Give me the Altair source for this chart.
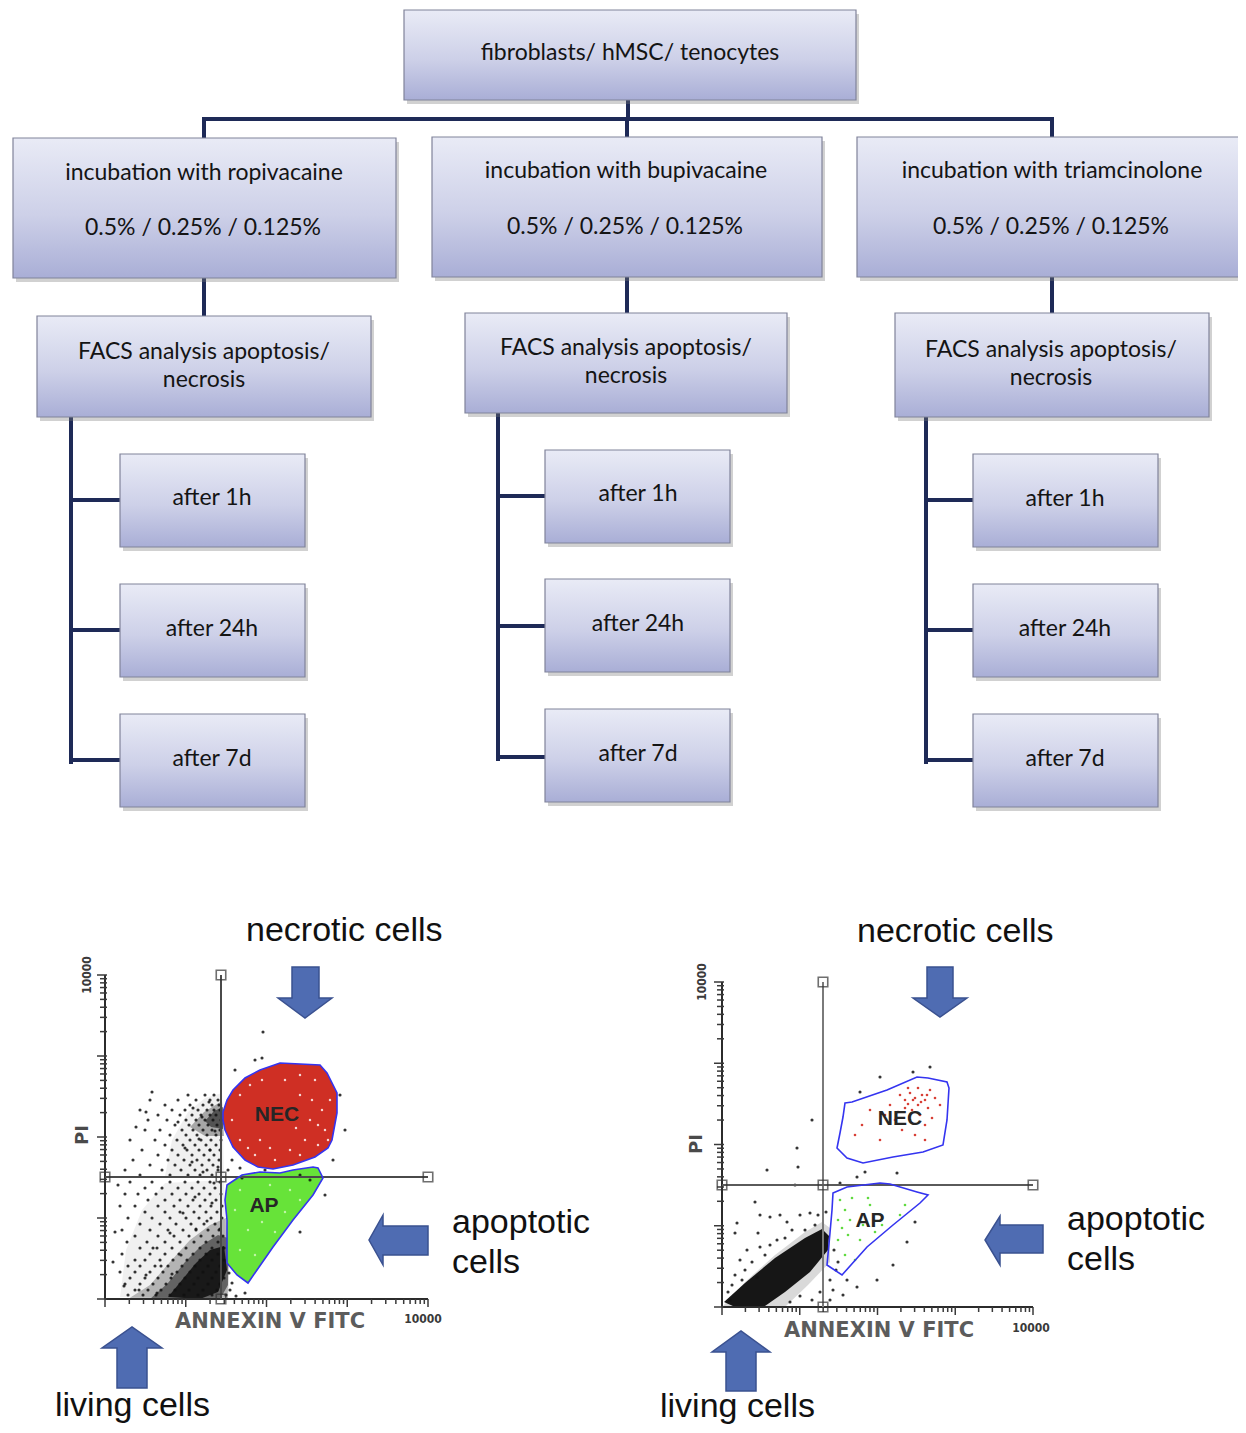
import math
import altair as alt
import pandas as pd

W, H = 1230, 1417

# ---------------- flowchart data ----------------
BOX_X1 = [404, 13, 432, 857, 37, 465, 895, 120, 120, 120, 545, 545, 545, 973, 973, 973]
BOX_Y1 = [10, 138, 137, 137, 316, 313, 313, 454, 584, 714, 450, 579, 709, 454, 584, 714]
BOX_X2 = [856, 396, 822, 1252, 371, 787, 1209, 305, 305, 305, 730, 730, 730, 1158, 1158, 1158]
BOX_Y2 = [100, 278, 277, 277, 417, 413, 417, 547, 677, 807, 543, 672, 802, 547, 677, 807]

LABEL_TEXT = [
    "fibroblasts/ hMSC/ tenocytes",
    "incubation  with ropivacaine", "0.5% / 0.25% / 0.125%",
    "incubation  with bupivacaine", "0.5% / 0.25% / 0.125%",
    "incubation  with triamcinolone", "0.5% / 0.25% / 0.125%",
    "FACS analysis apoptosis/", "necrosis",
    "FACS analysis apoptosis/", "necrosis",
    "FACS analysis apoptosis/", "necrosis",
    "after 1h", "after 24h", "after 7d",
    "after 1h", "after 24h", "after 7d",
    "after 1h", "after 24h", "after 7d",
]
LABEL_X = [630, 204, 203, 626, 625, 1052, 1051, 204, 204, 626, 626, 1051, 1051,
           212, 212, 212, 638, 638, 638, 1065, 1065, 1065]
LABEL_Y = [53, 173, 228, 171, 227, 171, 227, 352, 380, 348, 376, 350, 378,
           498, 629, 759, 494, 624, 754, 499, 629, 759]

SEG_X1 = [628, 204, 204, 627, 1052, 204, 627, 1052, 71, 71, 71, 71, 498, 498, 498, 498, 926, 926, 926, 926]
SEG_Y1 = [100, 119, 119, 119, 119, 278, 277, 277, 417, 500, 630, 760, 413, 496, 626, 757, 417, 500, 630, 760]
SEG_X2 = [628, 1052, 204, 627, 1052, 204, 627, 1052, 71, 120, 120, 120, 498, 545, 545, 545, 926, 973, 973, 973]
SEG_Y2 = [119, 119, 138, 137, 137, 316, 313, 313, 762, 500, 630, 760, 759, 496, 626, 757, 762, 500, 630, 760]

# ---------------- FACS panels ----------------
AX_ORIGIN_X = [105, 722]
AX_ORIGIN_Y = [1299, 1307]
AX_TOP_Y = [975, 982]
AX_RIGHT_X = [428, 1033]
QUAD_X = [221, 823]
QUAD_Y = [1177, 1185]
TICK_VALUES = [m * 10 ** d for d in range(4) for m in range(1, 10)] + [10000]

NEC_L = [(223, 1112), (227, 1100), (233, 1090), (245, 1078), (260, 1070), (280, 1063), (320, 1065),
         (327, 1073), (337, 1093), (337, 1113), (332, 1140), (328, 1148), (315, 1157), (293, 1165),
         (273, 1169), (258, 1167), (245, 1160), (233, 1147), (225, 1130), (223, 1120)]
AP_L = [(227, 1185), (242, 1175), (260, 1172), (280, 1173), (293, 1170), (313, 1167), (318, 1168),
        (323, 1178), (313, 1195), (293, 1220), (273, 1247), (257, 1270), (248, 1283), (237, 1275),
        (227, 1263), (227, 1220), (225, 1200)]
NEC_R = [(845, 1103), (852, 1102), (887, 1090), (917, 1077), (928, 1078), (947, 1082), (949, 1088),
         (947, 1120), (943, 1145), (923, 1152), (893, 1157), (863, 1163), (847, 1158), (837, 1148),
         (840, 1133), (843, 1117)]
AP_R = [(833, 1193), (847, 1187), (880, 1183), (890, 1184), (917, 1192), (928, 1195), (920, 1203),
        (893, 1225), (867, 1247), (842, 1275), (827, 1265), (830, 1233), (832, 1210)]

# dense event areas (soft, layered)
CLOUDS = [
    ([(165, 1176), (172, 1140), (188, 1112), (205, 1098), (222, 1093), (224, 1176)], 0.06),
    ([(120, 1297), (126, 1250), (142, 1210), (165, 1183), (224, 1180), (227, 1297)], 0.06),
    ([(190, 1127), (204, 1112), (222, 1101), (224, 1136), (205, 1136)], 0.3),
    ([(205, 1121), (214, 1111), (223, 1107), (223, 1129), (211, 1127)], 0.5),
    ([(128, 1299), (150, 1285), (170, 1262), (190, 1240), (210, 1225), (226, 1218), (229, 1260),
      (228, 1299)], 0.25),
    ([(150, 1299), (168, 1283), (185, 1262), (202, 1245), (218, 1235), (228, 1238), (228, 1285),
      (220, 1299)], 0.45),
    ([(168, 1297), (182, 1280), (196, 1263), (210, 1250), (224, 1246), (227, 1270), (218, 1292),
      (200, 1299)], 0.75),
    ([(722, 1307), (745, 1282), (775, 1255), (805, 1232), (822, 1222), (830, 1228), (830, 1262),
      (808, 1285), (785, 1307)], 0.15),
    ([(724, 1302), (745, 1283), (775, 1258), (805, 1238), (822, 1229), (829, 1236), (828, 1250),
      (810, 1272), (785, 1292), (765, 1306), (735, 1307)], 0.9),
]

ARROWS = [
    [(292, 967), (319, 967), (319, 998), (332, 998), (305, 1018), (278, 998), (292, 998)],
    [(927, 967), (953, 967), (953, 998), (967, 998), (940, 1017), (913, 998), (927, 998)],
    [(428, 1226), (428, 1255), (383, 1255), (383, 1265), (369, 1240), (383, 1215), (383, 1226)],
    [(1043, 1225), (1043, 1253), (1000, 1253), (1000, 1265), (985, 1240), (1000, 1216), (1000, 1225)],
    [(117, 1388), (147, 1388), (147, 1348), (162, 1348), (132, 1327), (102, 1348), (117, 1348)],
    [(726, 1391), (756, 1391), (756, 1352), (770, 1352), (741, 1331), (712, 1352), (726, 1352)],
]

# single events, left panel, read row by row (y: x positions)
BLACK_L_ROWS = {
    1095: [188, 205, 214], 1100: [150, 178, 196, 210, 218], 1105: [165, 190, 203, 212, 219],
    1110: [140, 172, 185, 198, 207, 214, 220], 1115: [158, 180, 192, 201, 210, 216],
    1120: [148, 167, 186, 196, 205, 213, 221], 1125: [175, 189, 199, 208, 217],
    1130: [145, 160, 182, 193, 203, 212, 220], 1135: [170, 186, 197, 207, 216],
    1140: [130, 155, 177, 190, 201, 211, 221], 1145: [165, 183, 195, 206, 216],
    1150: [142, 172, 187, 199, 210, 220], 1155: [158, 178, 192, 204, 214],
    1160: [133, 168, 184, 197, 209, 219], 1165: [150, 175, 190, 202, 213],
    1170: [125, 162, 181, 195, 207, 218], 1175: [140, 170, 188, 200, 212],
    1182: [130, 152, 170, 185, 198, 210, 220], 1188: [145, 162, 178, 192, 204, 215],
    1194: [125, 138, 156, 172, 186, 199, 210, 221], 1200: [148, 165, 180, 193, 205, 216],
    1206: [120, 135, 158, 174, 188, 200, 211, 222], 1212: [145, 165, 180, 194, 206, 217],
    1218: [128, 152, 170, 186, 199, 211, 222], 1224: [140, 160, 176, 191, 204, 215],
    1230: [122, 150, 168, 183, 196, 208, 219], 1236: [135, 158, 174, 189, 201, 213, 223],
    1242: [127, 147, 165, 180, 194, 206, 218], 1248: [140, 157, 172, 186, 200, 212, 224],
    1254: [122, 150, 165, 179, 193, 206, 218], 1260: [135, 145, 160, 173, 187, 200, 212, 224],
    1266: [128, 140, 155, 168, 182, 195, 208, 220], 1272: [120, 135, 150, 163, 177, 190, 203, 216],
    1278: [130, 145, 158, 171, 185, 198, 212, 224], 1284: [125, 140, 153, 166, 180, 194, 208, 220],
    1290: [135, 148, 161, 175, 189, 203, 217], 1295: [128, 143, 156, 170, 184, 198, 212, 226],
}
BLACK_L_EXTRA = [(232, 1160), (240, 1168), (228, 1170), (236, 1296), (245, 1293), (230, 1290), (255, 1060),
                 (235, 1070), (262, 1058), (242, 1178), (300, 1175), (265, 1170), (263, 1032), (340, 1095),
                 (345, 1130), (333, 1160), (310, 1180), (325, 1195), (300, 1232), (146, 1112), (136, 1127),
                 (118, 1185), (115, 1232), (113, 1262), (152, 1092), (232, 1283), (229, 1273),
                 (193, 1108), (202, 1117), (209, 1102), (215, 1131), (199, 1139), (210, 1150), (218, 1167),
                 (203, 1172), (192, 1162), (185, 1148), (178, 1122), (195, 1197), (212, 1203), (183, 1213),
                 (207, 1221), (170, 1233), (196, 1229), (153, 1248), (181, 1255), (161, 1266), (146, 1275),
                 (172, 1274), (139, 1290), (157, 1293), (124, 1286), (214, 1183), (220, 1229)]
BLACK_R = [(812, 1120), (797, 1148), (767, 1170), (798, 1167), (755, 1202), (760, 1215), (770, 1217),
           (780, 1215), (787, 1222), (800, 1215), (810, 1213), (737, 1223), (735, 1233), (758, 1233),
           (747, 1250), (740, 1260), (760, 1247), (777, 1240), (847, 1280), (857, 1287), (877, 1280),
           (833, 1290), (830, 1300), (893, 1265), (907, 1242), (915, 1222), (865, 1172), (897, 1173),
           (857, 1177), (840, 1183), (860, 1092), (880, 1077), (930, 1067), (913, 1072), (795, 1185),
           (805, 1230), (815, 1225), (838, 1262), (843, 1295), (735, 1275), (745, 1270), (752, 1262),
           (765, 1255), (770, 1245), (785, 1238), (792, 1230), (818, 1215), (826, 1212), (830, 1280),
           (820, 1292), (812, 1300), (800, 1296), (790, 1302), (834, 1250), (836, 1270), (728, 1292),
           (732, 1285), (742, 1280), (757, 1277), (730, 1300)]
RED_R = [(900, 1095), (905, 1100), (910, 1093), (915, 1098), (918, 1105), (922, 1095), (925, 1100),
         (928, 1108), (912, 1110), (905, 1108), (920, 1115), (930, 1090), (935, 1098), (898, 1112),
         (890, 1105), (885, 1115), (895, 1120), (910, 1120), (925, 1125), (932, 1118), (870, 1110),
         (862, 1125), (855, 1135), (880, 1140), (915, 1135), (925, 1140), (902, 1130), (940, 1105),
         (908, 1088), (918, 1088), (913, 1100), (921, 1102), (908, 1104), (927, 1095)]
GREEN_R = [(840, 1200), (845, 1210), (852, 1198), (868, 1198), (870, 1205), (838, 1220), (842, 1228),
           (848, 1235), (838, 1240), (845, 1255), (855, 1260), (860, 1240), (875, 1232), (882, 1225),
           (900, 1215), (905, 1205), (863, 1225), (850, 1220)]
WHITE_L = [(240, 1095), (250, 1085), (300, 1075), (315, 1080), (330, 1100), (325, 1130), (318, 1145),
           (300, 1155), (275, 1160), (255, 1155), (240, 1140), (232, 1120), (300, 1095), (310, 1120),
           (260, 1140), (285, 1080), (322, 1110), (290, 1150), (305, 1140), (270, 1148), (248, 1148),
           (312, 1100), (296, 1128), (318, 1125), (262, 1080), (328, 1140)]
LIGHT_G = [(240, 1190), (255, 1200), (270, 1185), (290, 1190), (300, 1200), (248, 1230), (262, 1222),
           (240, 1250), (255, 1255), (275, 1232), (235, 1210), (285, 1212)]

ANN_TEXT = ["necrotic cells", "apoptotic", "cells", "living cells",
            "necrotic cells", "apoptotic", "cells", "living cells"]
ANN_X = [246, 452, 452, 55, 857, 1067, 1067, 660]
ANN_Y = [941, 1233, 1273, 1416, 942, 1230, 1270, 1417]

# ---------------- helpers ----------------
xs = alt.Scale(domain=[8, 1238], nice=False, zero=False)
ys = alt.Scale(domain=[8, 1425], nice=False, zero=False, reverse=True)


def XE(f="x"):
    return alt.X(f"{f}:Q", scale=xs, axis=None)


def YE(f="y"):
    return alt.Y(f"{f}:Q", scale=ys, axis=None)


def feature(coords, fill, stroke, op=1.0):
    ring = [[float(a), float(b)] for a, b in coords]
    ring.append(ring[0])
    return {"type": "Feature", "properties": {"fill": fill, "stroke": stroke, "op": op},
            "geometry": {"type": "Polygon", "coordinates": [ring]}}


def shapes(feats, sw=1.5):
    return alt.Chart(alt.Data(values=feats)).mark_geoshape(strokeWidth=sw).encode(
        fill=alt.Fill("properties.fill:N", scale=None),
        stroke=alt.Stroke("properties.stroke:N", scale=None),
        opacity=alt.Opacity("properties.op:Q", scale=None),
    ).project(type="identity", scale=1, translate=[-8, -8])


def pts(lst):
    return pd.DataFrame({"x": [p[0] for p in lst], "y": [p[1] for p in lst]})


# ---------------- flowchart layers ----------------
boxes = pd.DataFrame({"x": BOX_X1, "y": BOX_Y1, "x2": BOX_X2, "y2": BOX_Y2})
shadow = boxes.copy()
shadow[["x", "x2"]] += 3
shadow[["y", "y2"]] += 4

shadow_layer = alt.Chart(shadow).mark_rect(fill="#7a7a7a", opacity=0.35).encode(
    x=XE(), x2="x2:Q", y=YE(), y2="y2:Q")
grad = alt.Gradient(gradient="linear", x1=0, x2=0, y1=0, y2=1,
                    stops=[alt.GradientStop(color="#e9ebf6", offset=0),
                           alt.GradientStop(color="#cdd0e8", offset=0.55),
                           alt.GradientStop(color="#a9aed6", offset=1)])
box_layer = alt.Chart(boxes).mark_rect(fill=grad, stroke="#80839a", strokeWidth=1.2).encode(
    x=XE(), x2="x2:Q", y=YE(), y2="y2:Q")

segs = pd.DataFrame({"x": SEG_X1, "y": SEG_Y1, "x2": SEG_X2, "y2": SEG_Y2})
seg_layer = alt.Chart(segs).mark_rule(color="#1e2a57", strokeWidth=4, strokeCap="square").encode(
    x=XE(), x2="x2:Q", y=YE(), y2="y2:Q")

labels = pd.DataFrame({"x": LABEL_X, "y": LABEL_Y, "t": LABEL_TEXT})
label_layer = alt.Chart(labels).mark_text(font="Lato", fontSize=23, color="#141414",
                                          align="center", baseline="middle").encode(
    x=XE(), y=YE(), text="t:N")

# ---------------- FACS layers ----------------
frame_x1, frame_y1, frame_x2, frame_y2 = [], [], [], []
tick_x1, tick_y1, tick_x2, tick_y2 = [], [], [], []
for i in range(2):
    ox, oy, ty, rx = AX_ORIGIN_X[i], AX_ORIGIN_Y[i], AX_TOP_Y[i], AX_RIGHT_X[i]
    frame_x1 += [ox, ox]
    frame_y1 += [ty, oy]
    frame_x2 += [ox, rx]
    frame_y2 += [oy, oy]
    for v in TICK_VALUES:
        frac = math.log10(v) / 4.0
        major = abs(math.log10(v) - round(math.log10(v))) < 1e-9
        ln = 8 if major else 5
        yy = oy - (oy - ty) * frac
        tick_x1.append(ox - ln); tick_x2.append(ox + 2); tick_y1.append(yy); tick_y2.append(yy)
        xx = ox + (rx - ox) * frac
        tick_x1.append(xx); tick_x2.append(xx); tick_y1.append(oy); tick_y2.append(oy + ln)

frame = pd.DataFrame({"x": frame_x1, "y": frame_y1, "x2": frame_x2, "y2": frame_y2})
frame_layer = alt.Chart(frame).mark_rule(color="#2b2b2b", strokeWidth=2).encode(
    x=XE(), x2="x2:Q", y=YE(), y2="y2:Q")
ticks = pd.DataFrame({"x": tick_x1, "y": tick_y1, "x2": tick_x2, "y2": tick_y2})
tick_layer = alt.Chart(ticks).mark_rule(color="#3a3a3a", strokeWidth=1.5).encode(
    x=XE(), x2="x2:Q", y=YE(), y2="y2:Q")

quad = pd.DataFrame({
    "x": [QUAD_X[0], AX_ORIGIN_X[0], QUAD_X[1], AX_ORIGIN_X[1]],
    "y": [AX_TOP_Y[0], QUAD_Y[0], AX_TOP_Y[1], QUAD_Y[1]],
    "x2": [QUAD_X[0], AX_RIGHT_X[0], QUAD_X[1], AX_RIGHT_X[1]],
    "y2": [AX_ORIGIN_Y[0], QUAD_Y[0], AX_ORIGIN_Y[1], QUAD_Y[1]],
    "c": ["#4a4a4a", "#4a4a4a", "#7a7a7a", "#5a5a5a"],
})
quad_layer = alt.Chart(quad).mark_rule(strokeWidth=2).encode(
    x=XE(), x2="x2:Q", y=YE(), y2="y2:Q", color=alt.Color("c:N", scale=None))

sq = pd.DataFrame({
    "x": [QUAD_X[0], AX_ORIGIN_X[0], QUAD_X[0], AX_RIGHT_X[0], QUAD_X[0],
          QUAD_X[1], AX_ORIGIN_X[1], QUAD_X[1], AX_RIGHT_X[1], QUAD_X[1]],
    "y": [AX_TOP_Y[0], QUAD_Y[0], QUAD_Y[0], QUAD_Y[0], AX_ORIGIN_Y[0],
          AX_TOP_Y[1], QUAD_Y[1], QUAD_Y[1], QUAD_Y[1], AX_ORIGIN_Y[1]],
})
sq_layer = alt.Chart(sq).mark_square(size=90, filled=False, color="#333333", strokeWidth=1.6).encode(
    x=XE(), y=YE())

cloud_layer = shapes(
    [feature(c, "#000000", "transparent", op) for c, op in CLOUDS]
    + [feature(NEC_L, "#cc2418", "transparent", 0.95), feature(AP_L, "#5fe22e", "transparent", 0.95)],
    sw=0)

black_l = [(x, y) for y, row in BLACK_L_ROWS.items() for x in row] + BLACK_L_EXTRA
black_dots = alt.Chart(pd.concat([pts(black_l), pts(BLACK_R)])).mark_circle(
    size=10, color="#111111", opacity=0.85).encode(x=XE(), y=YE())
white_dots = alt.Chart(pts(WHITE_L)).mark_circle(size=6, color="#ffffff", opacity=0.8).encode(
    x=XE(), y=YE())
lightg_dots = alt.Chart(pts(LIGHT_G)).mark_circle(size=6, color="#c8f7b0", opacity=0.9).encode(
    x=XE(), y=YE())
red_dots = alt.Chart(pts(RED_R)).mark_circle(size=7, color="#d42a20", opacity=0.9).encode(
    x=XE(), y=YE())
green_dots = alt.Chart(pts(GREEN_R)).mark_circle(size=7, color="#4fd62a", opacity=0.9).encode(
    x=XE(), y=YE())

gate_layer = shapes([
    feature(NEC_L, "transparent", "#3434f0"),
    feature(AP_L, "transparent", "#3434f0"),
    feature(NEC_R, "transparent", "#3434f0"),
    feature(AP_R, "transparent", "#3434f0"),
], sw=1.6)

arrow_layer = shapes([feature(a, "#4f6cb2", "#3a5190") for a in ARROWS], sw=1.5)

gate_txt = pd.DataFrame({"x": [277, 264, 900, 870], "y": [1115, 1206, 1119, 1221],
                         "t": ["NEC", "AP", "NEC", "AP"]})
gate_txt_layer = alt.Chart(gate_txt).mark_text(font="Liberation Sans", fontSize=21, fontWeight="bold",
                                               color="#262626", align="center", baseline="middle").encode(
    x=XE(), y=YE(), text="t:N")

axis_txt = pd.DataFrame({"x": [270, 879], "y": [1322, 1331], "t": ["ANNEXIN V FITC", "ANNEXIN V FITC"]})
axis_txt_layer = alt.Chart(axis_txt).mark_text(font="DejaVu Sans", fontSize=21, fontWeight="bold",
                                               color="#5c5c5c", align="center", baseline="middle").encode(
    x=XE(), y=YE(), text="t:N")
max_txt = pd.DataFrame({"x": [423, 1031], "y": [1319, 1328], "t": ["10000", "10000"]})
max_txt_layer = alt.Chart(max_txt).mark_text(font="DejaVu Sans Condensed", fontSize=12, fontWeight="bold",
                                             color="#3a3a3a", align="center", baseline="middle").encode(
    x=XE(), y=YE(), text="t:N")
rot_txt = pd.DataFrame({"x": [87, 702], "y": [975, 982], "t": ["10000", "10000"]})
rot_txt_layer = alt.Chart(rot_txt).mark_text(font="DejaVu Sans Condensed", fontSize=12, fontWeight="bold",
                                             color="#3a3a3a", angle=270, align="center",
                                             baseline="middle").encode(x=XE(), y=YE(), text="t:N")
pi_txt = pd.DataFrame({"x": [83, 697], "y": [1135, 1144], "t": ["PI", "PI"]})
pi_txt_layer = alt.Chart(pi_txt).mark_text(font="DejaVu Sans", fontSize=18, fontWeight="bold",
                                           color="#4a4a4a", angle=270, align="center",
                                           baseline="middle").encode(x=XE(), y=YE(), text="t:N")

ann = pd.DataFrame({"x": ANN_X, "y": ANN_Y, "t": ANN_TEXT})
ann_layer = alt.Chart(ann).mark_text(font="Liberation Sans", fontSize=34, color="#111111",
                                     align="left", baseline="alphabetic").encode(
    x=XE(), y=YE(), text="t:N")

chart = alt.layer(
    seg_layer, shadow_layer, box_layer, label_layer,
    cloud_layer, black_dots, white_dots, lightg_dots, red_dots, green_dots,
    frame_layer, tick_layer, quad_layer, gate_layer, sq_layer,
    gate_txt_layer, axis_txt_layer, max_txt_layer, rot_txt_layer, pi_txt_layer,
    arrow_layer, ann_layer,
).properties(
    width=W, height=H, padding=0, background="#ffffff",
    autosize=alt.AutoSizeParams(type="none"),
).configure_view(stroke=None)

chart.save("out.html", embed_options={"renderer": "svg", "actions": False})
